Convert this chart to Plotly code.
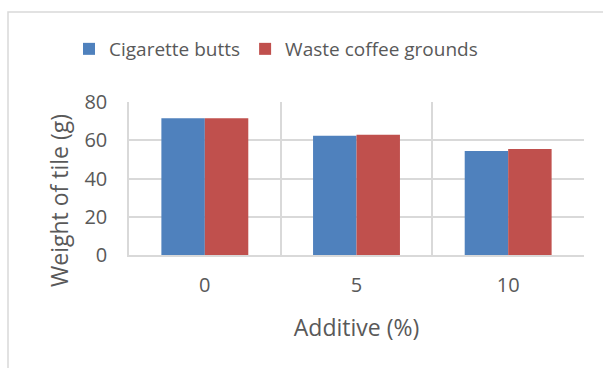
import plotly.graph_objects as go

# Tile weight by additive percentage
additive_pct = ["0", "5", "10"]
cigarette_butts = [71.5, 62.4, 54.4]
coffee_grounds = [71.5, 62.9, 55.4]
y_ticks = [0, 20, 40, 60, 80]

text_color = "#595959"
grid_color = "#D9D9D9"
font_family = "Open Sans"

fig = go.Figure()
fig.add_trace(go.Bar(
    name="Cigarette butts", x=additive_pct, y=cigarette_butts,
    marker=dict(color="#4F81BD", line=dict(width=0)),
))
fig.add_trace(go.Bar(
    name="Waste coffee grounds", x=additive_pct, y=coffee_grounds,
    marker=dict(color="#C0504D", line=dict(width=0)),
))

# outer chart frame
fig.add_shape(
    type="rect", xref="paper", yref="paper",
    x0=(8 - 129) / 455, x1=(640 - 129) / 455,
    y0=(255 - 400) / 153, y1=(255 - 12) / 153,
    line=dict(color=grid_color, width=1.5), layer="below",
)

# vertical y-axis title, placed within the chart area
fig.add_annotation(
    text="Weight of tile (g)", textangle=-90,
    xref="paper", yref="paper",
    x=(59 - 129) / 455, y=(255 - 201) / 153,
    xanchor="center", yanchor="middle", showarrow=False,
    font=dict(size=23, color=text_color),
)

fig.update_layout(
    width=603, height=368,
    margin=dict(l=129, r=19, t=102, b=113),
    paper_bgcolor="white", plot_bgcolor="white",
    barmode="group", bargap=0.427, bargroupgap=0,
    font=dict(family=font_family, color=text_color, size=20),
    legend=dict(
        orientation="h", x=(69 - 129) / 455, xanchor="left",
        y=(255 - 49) / 153, yanchor="middle",
        font=dict(size=19, color=text_color),
        bgcolor="rgba(0,0,0,0)", itemclick=False,
    ),
    xaxis=dict(
        type="category", tickson="boundaries",
        showgrid=True, gridcolor=grid_color, gridwidth=1.5,
        showline=True, linecolor=grid_color, linewidth=1.5,
        ticks="", ticklabelstandoff=11,
        tickfont=dict(size=20, color=text_color),
        title=dict(text="Additive (%)", font=dict(size=23, color=text_color), standoff=23),
    ),
    yaxis=dict(
        range=[0, 80], tickvals=y_ticks,
        showgrid=True, gridcolor=grid_color, gridwidth=1.5,
        showline=True, linecolor=grid_color, linewidth=1.5,
        zeroline=False, ticks="", ticklabelstandoff=16,
        tickfont=dict(size=20, color=text_color),
    ),
)

fig.write_html("out.html")
